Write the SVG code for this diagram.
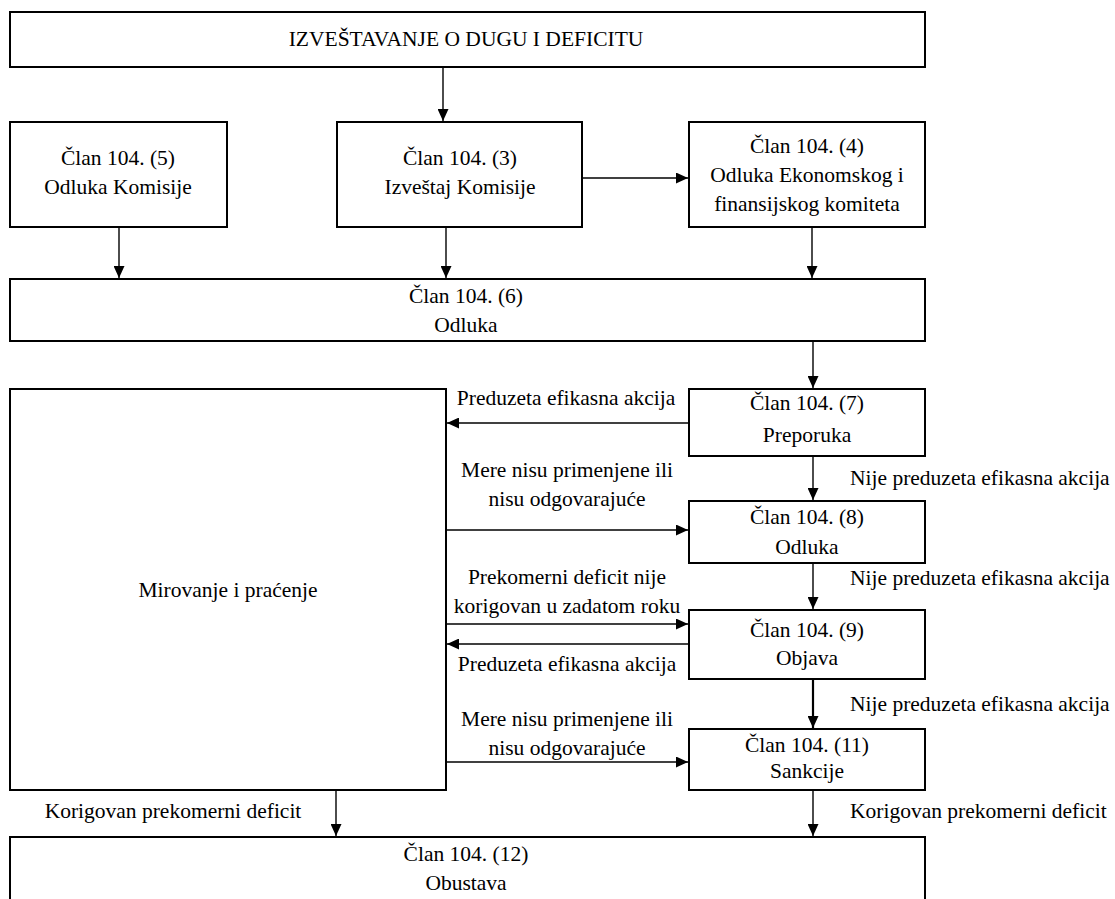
<svg xmlns="http://www.w3.org/2000/svg" width="1115" height="899" viewBox="0 0 1115 899">
  <defs>
    <style>
      .box { fill: #ffffff; stroke: #000000; stroke-width: 2; }
      .t { font-family: "Liberation Serif", "Times New Roman", serif; font-size: 21.5px; fill: #000000; text-anchor: middle; }
      .ts { text-anchor: start; }
      .edge { fill: none; stroke: #000000; stroke-width: 1.4; marker-end: url(#head); }
      .edge-bold { stroke-width: 2.2; }
    </style>
    <marker id="head" viewBox="0 0 12 11" refX="12" refY="5.5" markerWidth="12" markerHeight="11" markerUnits="userSpaceOnUse" orient="auto">
      <path d="M0,0 L12,5.5 L0,11 Z" fill="#000000"/>
    </marker>
  </defs>

  <rect width="1115" height="899" fill="#ffffff"/>

  <!-- nodes -->
  <g id="izvestavanje">
    <rect class="box" x="10" y="12" width="915" height="55"/>
    <text class="t" x="466" y="46">IZVEŠTAVANJE O DUGU I DEFICITU</text>
  </g>

  <g id="clan-104-5">
    <rect class="box" x="10" y="122" width="217" height="105"/>
    <text class="t" x="118" y="165">Član 104. (5)</text>
    <text class="t" x="118" y="194">Odluka Komisije</text>
  </g>

  <g id="clan-104-3">
    <rect class="box" x="337" y="122" width="245" height="105"/>
    <text class="t" x="460" y="165">Član 104. (3)</text>
    <text class="t" x="460" y="194">Izveštaj Komisije</text>
  </g>

  <g id="clan-104-4">
    <rect class="box" x="689" y="122" width="236" height="105"/>
    <text class="t" x="807" y="153">Član 104. (4)</text>
    <text class="t" x="807" y="182">Odluka Ekonomskog i</text>
    <text class="t" x="807" y="211">finansijskog komiteta</text>
  </g>

  <g id="clan-104-6">
    <rect class="box" x="10" y="279" width="915" height="62"/>
    <text class="t" x="466" y="303">Član 104. (6)</text>
    <text class="t" x="466" y="332">Odluka</text>
  </g>

  <g id="mirovanje">
    <rect class="box" x="10" y="389" width="436" height="401"/>
    <text class="t" x="228" y="597">Mirovanje i praćenje</text>
  </g>

  <g id="clan-104-7">
    <rect class="box" x="689" y="389" width="236" height="67"/>
    <text class="t" x="807" y="410">Član 104. (7)</text>
    <text class="t" x="807" y="442">Preporuka</text>
  </g>

  <g id="clan-104-8">
    <rect class="box" x="689" y="501" width="236" height="62"/>
    <text class="t" x="807" y="524">Član 104. (8)</text>
    <text class="t" x="807" y="554">Odluka</text>
  </g>

  <g id="clan-104-9">
    <rect class="box" x="689" y="610" width="236" height="69"/>
    <text class="t" x="807" y="637">Član 104. (9)</text>
    <text class="t" x="807" y="665">Objava</text>
  </g>

  <g id="clan-104-11">
    <rect class="box" x="689" y="729" width="236" height="61"/>
    <text class="t" x="807" y="752">Član 104. (11)</text>
    <text class="t" x="807" y="778">Sankcije</text>
  </g>

  <g id="clan-104-12">
    <rect class="box" x="10" y="837" width="915" height="80"/>
    <text class="t" x="466" y="861">Član 104. (12)</text>
    <text class="t" x="466" y="890">Obustava</text>
  </g>

  <!-- connectors -->
  <g id="connectors">
    <line class="edge" x1="443" y1="67" x2="443" y2="121"/>
    <line class="edge" x1="582" y1="178" x2="688" y2="178"/>
    <line class="edge" x1="119" y1="227" x2="119" y2="278"/>
    <line class="edge" x1="446" y1="227" x2="446" y2="278"/>
    <line class="edge" x1="812" y1="227" x2="812" y2="278"/>
    <line class="edge" x1="813" y1="341" x2="813" y2="388"/>

    <line class="edge" x1="689" y1="423" x2="447" y2="423"/>
    <line class="edge" x1="813" y1="456" x2="813" y2="500"/>
    <line class="edge" x1="447" y1="530" x2="688" y2="530"/>
    <line class="edge" x1="813" y1="563" x2="813" y2="609"/>
    <line class="edge" x1="447" y1="624" x2="688" y2="624"/>
    <line class="edge" x1="689" y1="644" x2="447" y2="644"/>
    <line class="edge edge-bold" x1="813" y1="679" x2="813" y2="728"/>
    <line class="edge" x1="447" y1="762" x2="688" y2="762"/>
    <line class="edge" x1="336" y1="790" x2="336" y2="836"/>
    <line class="edge" x1="813" y1="790" x2="813" y2="836"/>

    <!-- connector labels -->
    <text class="t" x="566" y="405">Preduzeta efikasna akcija</text>
    <text class="t ts" x="850" y="485">Nije preduzeta efikasna akcija</text>
    <text class="t" x="567" y="477">Mere nisu primenjene ili</text>
    <text class="t" x="567" y="506">nisu odgovarajuće</text>
    <text class="t ts" x="850" y="585">Nije preduzeta efikasna akcija</text>
    <text class="t" x="567" y="584">Prekomerni deficit nije</text>
    <text class="t" x="567" y="613">korigovan u zadatom roku</text>
    <text class="t" x="567" y="671">Preduzeta efikasna akcija</text>
    <text class="t ts" x="850" y="711">Nije preduzeta efikasna akcija</text>
    <text class="t" x="567" y="726">Mere nisu primenjene ili</text>
    <text class="t" x="567" y="755">nisu odgovarajuće</text>
    <text class="t" x="173" y="818">Korigovan prekomerni deficit</text>
    <text class="t ts" x="850" y="818">Korigovan prekomerni deficit</text>
  </g>
</svg>
